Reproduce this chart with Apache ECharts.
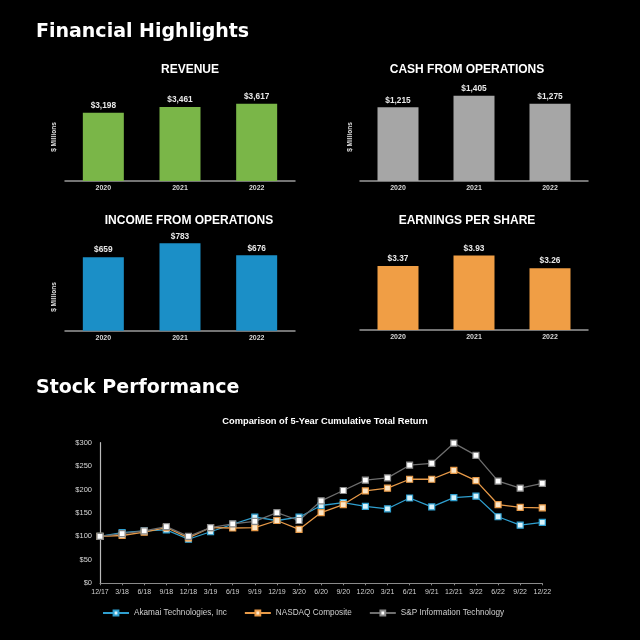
<!DOCTYPE html>
<html>
<head>
<meta charset="utf-8">
<script src="https://cdn.jsdelivr.net/npm/echarts@6/dist/echarts.min.js"></script>
<style>
html,body{margin:0;padding:0;background:#000;}
#c{width:640px;height:640px;}
</style>
</head>
<body>
<div id="c"></div>
<script>
var years = ['2020', '2021', '2022'];
var revenue = [3198, 3461, 3617];
var cashOps = [1215, 1405, 1275];
var incomeOps = [659, 783, 676];
var eps = [3.37, 3.93, 3.26];

var quarters = ['12/17','3/18','6/18','9/18','12/18','3/19','6/19','9/19','12/19','3/20','6/20','9/20','12/20','3/21','6/21','9/21','12/21','3/22','6/22','9/22','12/22'];
var akamai = [100,108,112,114,94,110,126,141,134,141,166,172,164,159,182,163,183,186,142,124,130];
var nasdaq = [100,102,109,119,97,119,118,119,134,115,151,168,197,203,222,222,241,219,168,162,161];
var spIT = [100,106,112,121,100,119,127,132,151,134,176,198,220,225,252,256,299,273,218,203,213];
var yTicks = [0,50,100,150,200,250,300];

var FONT = '"Liberation Sans", Arial, sans-serif';
var HFONT = '"DejaVu Sans", sans-serif';
var chart = echarts.init(document.getElementById('c'), null, {renderer: 'canvas'});

var grids = [
  {left: 65, width: 230, top: 95.5, height: 85.5},   // revenue
  {left: 360, width: 228, top: 84, height: 97},      // cash
  {left: 65, width: 230, top: 230.3, height: 100.4}, // income
  {left: 360, width: 228, top: 235.1, height: 94.9}, // eps
  {left: 100, width: 442.3, top: 442.7, height: 140.6} // line
];
var barMax = [4000, 1600, 900, 5];
var barColors = ['#7ab648', '#a6a6a6', '#1b8fc7', '#f09e45'];
var barData = [revenue, cashOps, incomeOps, eps];
var barFmt = [
  function(v){return '$' + v.toLocaleString('en-US');},
  function(v){return '$' + v.toLocaleString('en-US');},
  function(v){return '$' + v.toLocaleString('en-US');},
  function(v){return '$' + v.toFixed(2);}
];

var xAxes = [], yAxes = [], series = [];
for (var i = 0; i < 4; i++) {
  xAxes.push({
    gridIndex: i, type: 'category', data: years,
    axisLine: {show: true, lineStyle: {color: '#9a9a9a', width: 1.5}},
    axisTick: {show: false},
    axisLabel: {color: '#d8d8d8', fontSize: 7, fontWeight: 'bold', fontFamily: FONT, margin: 4}
  });
  yAxes.push({
    gridIndex: i, type: 'value', min: 0, max: barMax[i],
    axisLine: {show: false}, axisTick: {show: false}, axisLabel: {show: false}, splitLine: {show: false}
  });
  (function(k){
    series.push({
      type: 'bar', xAxisIndex: k, yAxisIndex: k, data: barData[k], barWidth: 41,
      itemStyle: {color: barColors[k]},
      label: {show: true, position: 'top', distance: 3, color: '#e8e8e8', fontSize: 8.3, fontWeight: 'bold', fontFamily: FONT,
        formatter: function(p){return barFmt[k](p.value);}}
    });
  })(i);
}

xAxes.push({
  gridIndex: 4, type: 'category', data: quarters, boundaryGap: false,
  axisLine: {show: true, lineStyle: {color: '#8a8a8a', width: 1}},
  axisTick: {show: true, length: 2, lineStyle: {color: '#8a8a8a'}},
  axisLabel: {color: '#d0d0d0', fontSize: 7, fontFamily: FONT, margin: 5, interval: 0}
});
yAxes.push({
  gridIndex: 4, type: 'value', min: 0, max: 300, interval: 50,
  axisLine: {show: true, lineStyle: {color: '#bbbbbb', width: 1.2}},
  axisTick: {show: false},
  splitLine: {show: false},
  axisLabel: {color: '#d8d8d8', fontSize: 7.5, fontFamily: FONT, margin: 8, formatter: function(v){return '$' + v;}}
});

function lineSeries(name, data, lineColor, borderColor, fill) {
  return {
    name: name, type: 'line', xAxisIndex: 4, yAxisIndex: 4, data: data,
    symbol: 'rect', symbolSize: 6,
    lineStyle: {color: lineColor, width: 1.3},
    itemStyle: {color: fill, borderColor: borderColor, borderWidth: 1.2},
    emphasis: {disabled: true}
  };
}
series.push(lineSeries('Akamai Technologies, Inc', akamai, '#2f9fcf', '#2f9fcf', '#d8f3fb'));
series.push(lineSeries('NASDAQ Composite', nasdaq, '#e89a48', '#e89a48', '#fde6c6'));
series.push(lineSeries('S&P Information Technology', spIT, '#6e6e6e', '#8a8a8a', '#ffffff'));

var option = {
  backgroundColor: '#000000',
  animation: false,
  grid: grids,
  xAxis: xAxes,
  yAxis: yAxes,
  series: series,
  legend: {
    left: 97, top: 604, itemWidth: 26, itemHeight: 6, itemGap: 17,
    textStyle: {color: '#cfcfcf', fontSize: 8.2, fontFamily: FONT},
    data: ['Akamai Technologies, Inc', 'NASDAQ Composite', 'S&P Information Technology']
  },
  graphic: [
    {type: 'text', x: 36, y: 32, style: {text: 'Financial Highlights', fill: '#fff', font: 'bold 19px ' + HFONT, verticalAlign: 'middle'}},
    {type: 'text', x: 36, y: 388, style: {text: 'Stock Performance', fill: '#fff', font: 'bold 19px ' + HFONT, verticalAlign: 'middle'}},
    {type: 'text', x: 190, y: 70, style: {text: 'REVENUE', fill: '#fff', font: 'bold 12px ' + FONT, align: 'center', verticalAlign: 'middle'}},
    {type: 'text', x: 467, y: 70, style: {text: 'CASH FROM OPERATIONS', fill: '#fff', font: 'bold 12px ' + FONT, align: 'center', verticalAlign: 'middle'}},
    {type: 'text', x: 189, y: 221, style: {text: 'INCOME FROM OPERATIONS', fill: '#fff', font: 'bold 12px ' + FONT, align: 'center', verticalAlign: 'middle'}},
    {type: 'text', x: 467, y: 221, style: {text: 'EARNINGS PER SHARE', fill: '#fff', font: 'bold 12px ' + FONT, align: 'center', verticalAlign: 'middle'}},
    {type: 'text', x: 325, y: 421, style: {text: 'Comparison of 5-Year Cumulative Total Return', fill: '#fff', font: 'bold 9.3px ' + FONT, align: 'center', verticalAlign: 'middle'}},
    {type: 'text', x: 54, y: 137, rotation: Math.PI / 2, style: {text: '$ Millions', fill: '#e0e0e0', font: 'bold 6.5px ' + FONT, align: 'center', verticalAlign: 'middle'}},
    {type: 'text', x: 350, y: 137, rotation: Math.PI / 2, style: {text: '$ Millions', fill: '#e0e0e0', font: 'bold 6.5px ' + FONT, align: 'center', verticalAlign: 'middle'}},
    {type: 'text', x: 54, y: 297, rotation: Math.PI / 2, style: {text: '$ Millions', fill: '#e0e0e0', font: 'bold 6.5px ' + FONT, align: 'center', verticalAlign: 'middle'}}
  ]
};
chart.setOption(option);
</script>
</body>
</html>
